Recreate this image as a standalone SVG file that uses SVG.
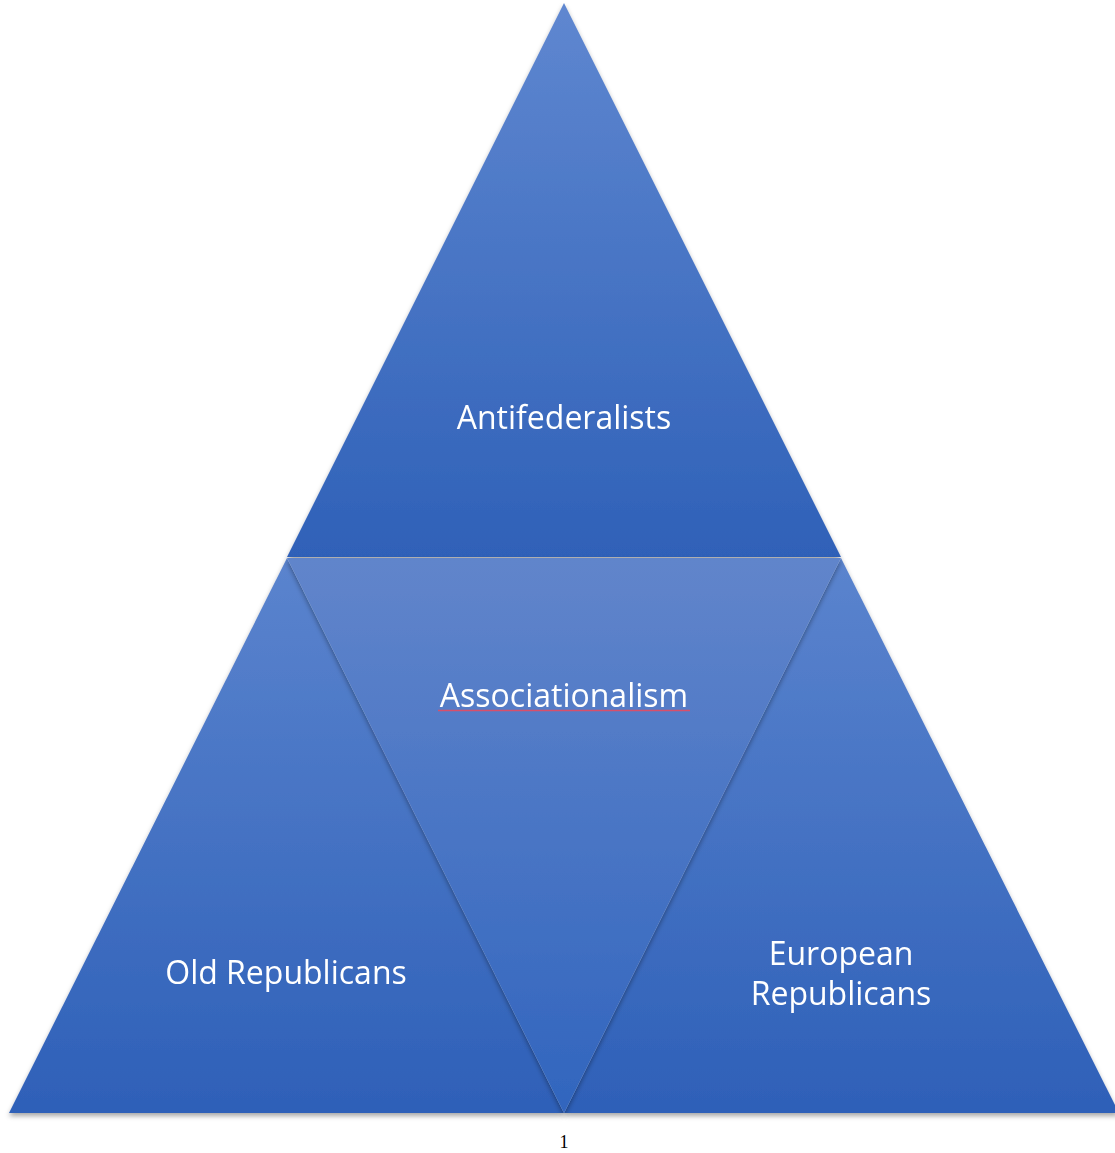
<svg xmlns="http://www.w3.org/2000/svg" width="1115" height="1153" viewBox="0 0 1115 1153">
<defs>
<linearGradient id="gTop" x1="0" y1="0" x2="0" y2="1">
<stop offset="0" stop-color="#5F87D0"/>
<stop offset="1" stop-color="#2F61B8"/>
</linearGradient>
<linearGradient id="gSide" x1="0" y1="0" x2="0" y2="1">
<stop offset="0" stop-color="#5B84CE"/>
<stop offset="1" stop-color="#2E60B8"/>
</linearGradient>
<linearGradient id="gMid" x1="0" y1="0" x2="0" y2="1">
<stop offset="0" stop-color="#6185CB"/>
<stop offset="1" stop-color="#3165BE"/>
</linearGradient>
<filter id="sh" x="-10%" y="-10%" width="120%" height="120%">
<feDropShadow dx="0" dy="3" stdDeviation="2.5" flood-color="#000" flood-opacity="0.35"/>
</filter>
</defs>
<style>
.lbl{font-family:"Open Sans","Noto Sans",sans-serif;font-size:32px;fill:#ffffff;text-anchor:middle}
.pg{font-family:"Liberation Serif",serif;font-size:18px;fill:#000;text-anchor:middle}
</style>
<rect width="1115" height="1153" fill="#ffffff"/>
<g id="top" filter="url(#sh)">
<polygon points="564,3 287,557 841,557" fill="url(#gTop)"/>
<text class="lbl" x="564" y="429">Antifederalists</text>
</g>
<g id="left" filter="url(#sh)">
<polygon points="287,558 9,1113 564,1113" fill="url(#gSide)"/>
<text class="lbl" x="286" y="984">Old Republicans</text>
</g>
<g id="right" filter="url(#sh)">
<polygon points="841,558 564,1113 1119,1113" fill="url(#gSide)"/>
<text class="lbl" x="841" y="965">European</text>
<text class="lbl" x="841" y="1005">Republicans</text>
</g>
<g id="center" filter="url(#sh)">
<polygon points="287,558 841,558 564,1113" fill="url(#gMid)"/>
<text class="lbl" x="564" y="707">Associationalism</text>
<path d="M438,710.5 L690,710.5" stroke="#D9506A" stroke-width="1.3" fill="none"/>
</g>
<text class="pg" x="564" y="1148">1</text>
</svg>
